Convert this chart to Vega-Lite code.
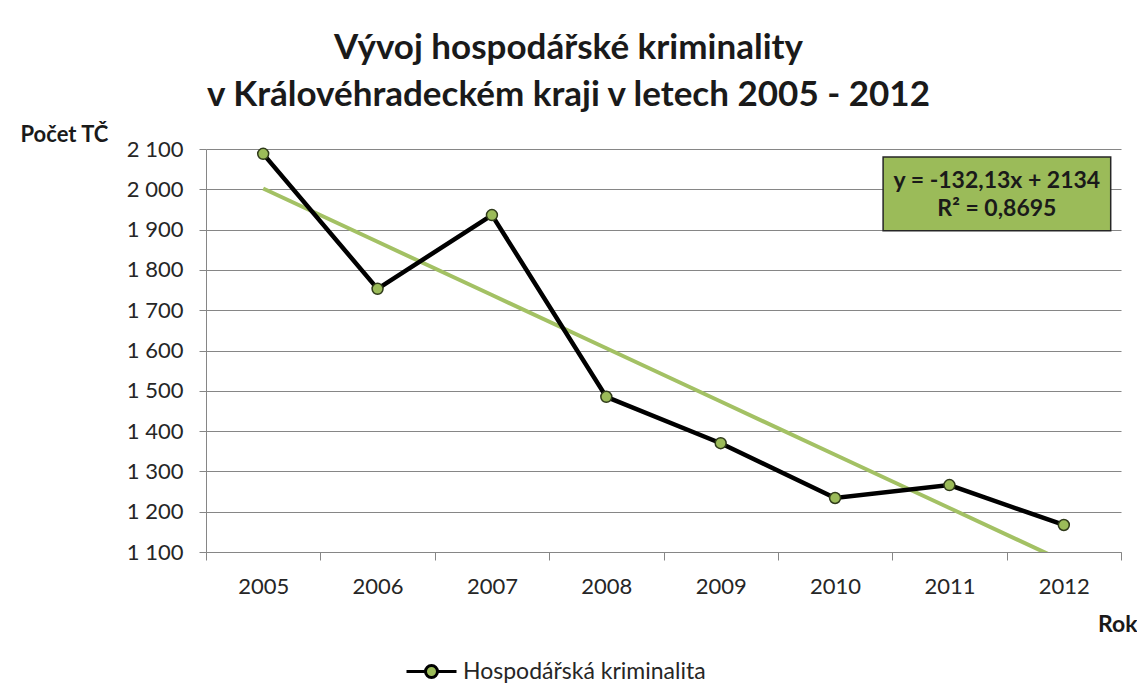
{
  "$schema": "https://vega.github.io/schema/vega-lite/v6.json",
  "autosize": {"type": "none"},
  "width": 915,
  "height": 403,
  "padding": {"left": 206, "top": 149, "right": 16, "bottom": 143},
  "background": "white",
  "config": {
    "font": "Lato",
    "view": {"stroke": null}
  },
  "title": {
    "text": ["Vývoj hospodářské kriminality", "v Královéhradeckém kraji v letech 2005 - 2012"],
    "font": "Lato",
    "fontSize": 35,
    "fontWeight": "bold",
    "color": "#1a1a1a",
    "anchor": "middle",
    "frame": "group",
    "dx": -95,
    "offset": 10,
    "lineHeight": 47
  },
  "datasets": {
    "main": [
      {"rok": "2005", "tc": 2088, "trend": 2001.87, "serie": "Hospodářská kriminalita"},
      {"rok": "2006", "tc": 1753, "trend": 1869.74, "serie": "Hospodářská kriminalita"},
      {"rok": "2007", "tc": 1936, "trend": 1737.61, "serie": "Hospodářská kriminalita"},
      {"rok": "2008", "tc": 1485, "trend": 1605.48, "serie": "Hospodářská kriminalita"},
      {"rok": "2009", "tc": 1370, "trend": 1473.35, "serie": "Hospodářská kriminalita"},
      {"rok": "2010", "tc": 1234, "trend": 1341.22, "serie": "Hospodářská kriminalita"},
      {"rok": "2011", "tc": 1266, "trend": 1209.09, "serie": "Hospodářská kriminalita"},
      {"rok": "2012", "tc": 1167, "trend": 1076.96, "serie": "Hospodářská kriminalita"}
    ],
    "box": [
      {"x1": 5.92, "x2": 7.91, "y1": 2080, "y2": 1897}
    ],
    "boxtext": [
      {"x": 6.915, "y": 2021, "t": "y = -132,13x + 2134"},
      {"x": 6.915, "y": 1952, "t": "R² = 0,8695"}
    ]
  },
  "layer": [
    {
      "data": {"name": "main"},
      "layer": [
        {
          "mark": {"type": "line", "color": "#A3C164", "strokeWidth": 4, "clip": true},
          "encoding": {
            "x": {
              "field": "rok", "type": "ordinal",
              "scale": {"type": "band", "paddingInner": 0, "paddingOuter": 0},
              "axis": {
                "title": "Rok",
                "titleFont": "Lato",
                "titleFontSize": 23,
                "titleFontWeight": "bold",
                "titleColor": "#1a1a1a",
                "titleAlign": "right",
                "titleBaseline": "middle",
                "titleX": 931,
                "titleY": 72,
                "labelAngle": 0,
                "labelFont": "Lato",
                "labelFontSize": 22,
                "labelColor": "#262626",
                "labelPadding": 16,
                "tickBand": "extent",
                "tickSize": 8,
                "tickColor": "#868686",
                "domainColor": "#868686",
                "grid": false
              }
            },
            "y": {
              "field": "trend", "type": "quantitative",
              "scale": {"domain": [1100, 2100], "nice": false, "zero": false},
              "axis": {
                "title": "Počet TČ",
                "titleFont": "Lato",
                "titleFontSize": 22,
                "titleFontWeight": "bold",
                "titleColor": "#1a1a1a",
                "titleAngle": 0,
                "titleAlign": "left",
                "titleBaseline": "alphabetic",
                "titleX": -186,
                "titleY": -8,
                "values": [1100, 1200, 1300, 1400, 1500, 1600, 1700, 1800, 1900, 2000, 2100],
                "labelExpr": "replace(format(datum.value, ','), ',', ' ')",
                "labelFont": "Lato",
                "labelFontSize": 22,
                "labelColor": "#262626",
                "labelPadding": 16,
                "labelBaseline": "middle",
                "tickSize": 7,
                "tickColor": "#868686",
                "domainColor": "#868686",
                "gridColor": "#868686",
                "gridWidth": 1.2,
                "grid": true
              }
            }
          }
        },
        {
          "mark": {"type": "line", "strokeWidth": 4.5},
          "encoding": {
            "x": {"field": "rok", "type": "ordinal"},
            "y": {"field": "tc", "type": "quantitative"},
            "color": {
              "field": "serie", "type": "nominal",
              "scale": {"range": ["#000000"]},
              "legend": {
                "title": null,
                "orient": "none",
                "legendX": 214,
                "legendY": 511,
                "padding": 0,
                "symbolType": "M-2.5,0H-0.6M0.6,0H2.5M-0.6,0A0.6,0.6 0 1,0 0.6,0A0.6,0.6 0 1,0 -0.6,0Z",
                "symbolSize": 400,
                "symbolStrokeWidth": 3,
                "labelOffset": 20,
                "labelLimit": 0,
                "labelFont": "Lato",
                "labelFontSize": 23,
                "labelColor": "#262626",
                "encode": {
                  "symbols": {"update": {"fill": {"value": "#9BBB59"}, "stroke": {"value": "#000000"}, "strokeWidth": {"value": 3}}}
                }
              }
            }
          }
        },
        {
          "mark": {"type": "point", "filled": true, "fill": "#9BBB59", "stroke": "#2f3a1a", "strokeWidth": 1.5, "size": 120, "opacity": 1},
          "encoding": {
            "x": {"field": "rok", "type": "ordinal"},
            "y": {"field": "tc", "type": "quantitative"}
          }
        }
      ]
    },
    {
      "data": {"name": "box"},
      "mark": {"type": "rect", "fill": "#9BBB59", "stroke": "#262626", "strokeWidth": 1.5},
      "encoding": {
        "x": {"field": "x1", "type": "quantitative", "scale": {"domain": [0, 8], "nice": false, "zero": false}, "axis": null},
        "x2": {"field": "x2"},
        "y": {"field": "y1", "type": "quantitative"},
        "y2": {"field": "y2"}
      }
    },
    {
      "data": {"name": "boxtext"},
      "mark": {"type": "text", "font": "Lato", "fontSize": 23, "fontWeight": "bold", "color": "#1a1a1a", "align": "center", "baseline": "middle"},
      "encoding": {
        "x": {"field": "x", "type": "quantitative", "scale": {"domain": [0, 8], "nice": false, "zero": false}, "axis": null},
        "y": {"field": "y", "type": "quantitative"},
        "text": {"field": "t"}
      }
    }
  ],
  "resolve": {"scale": {"x": "independent"}, "axis": {"x": "independent"}}
}
